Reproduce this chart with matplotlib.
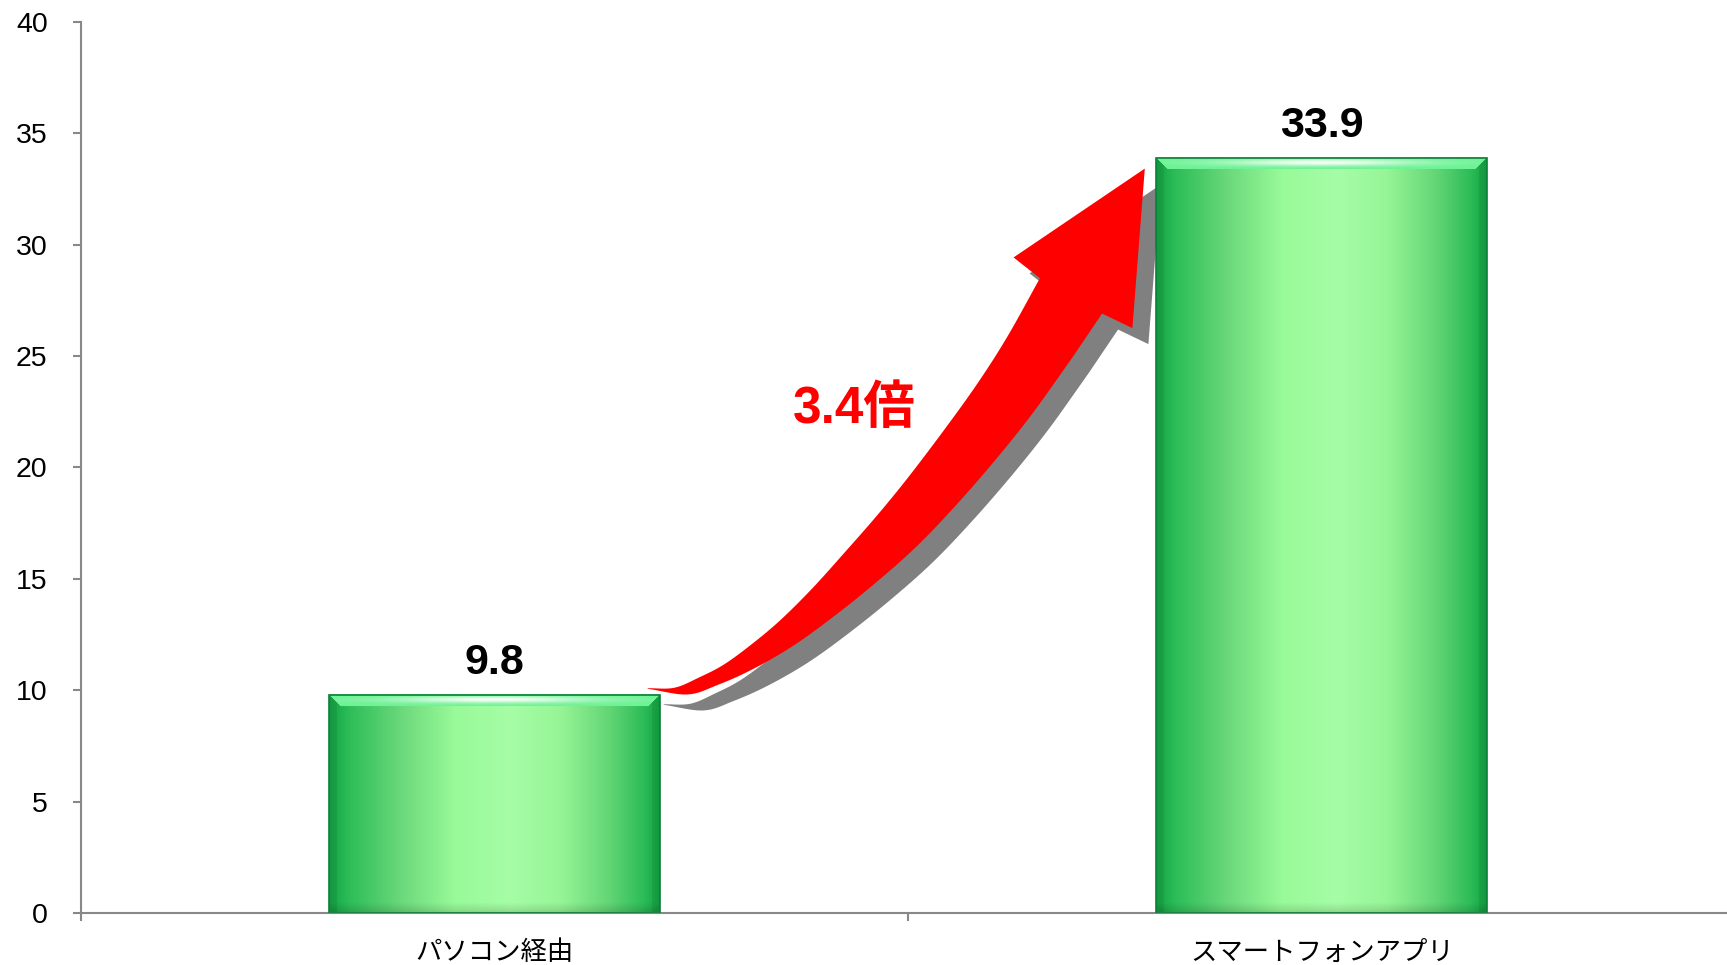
import numpy as np
import matplotlib
matplotlib.use("Agg")
import matplotlib.pyplot as plt
import matplotlib.transforms as mtransforms
from matplotlib.colors import to_rgb
from matplotlib.patches import Rectangle, PathPatch
from matplotlib.path import Path

plt.rcParams['font.family'] = ['Liberation Sans', 'Noto Sans CJK JP']

categories = ['パソコン経由', 'スマートフォンアプリ']
values = [9.8, 33.9]
ratio_label = '3.4倍'
yticks = [0, 5, 10, 15, 20, 25, 30, 35, 40]

# horizontal colour stops of the "cylinder" bars
stops = [(0.0, '#13a444'), (0.06, '#2dbd58'), (0.22, '#6cd97c'), (0.38, '#98fa98'),
         (0.55, '#a6fda6'), (0.7, '#96f596'), (0.85, '#62d575'), (0.95, '#2dbd58'),
         (1.0, '#13a444')]


def bar_image(wpx, hpx):
    u = np.linspace(0, 1, wpx)
    pos = [s[0] for s in stops]
    cols = np.array([to_rgb(s[1]) for s in stops])
    prof = np.stack([np.interp(u, pos, cols[:, k]) for k in range(3)], -1)
    img = np.repeat(prof[None], hpx, axis=0)
    rows = np.arange(hpx)[:, None]
    cidx = np.arange(wpx)[None, :]
    # darker band at the bottom
    d = (hpx - 1 - rows).astype(float)
    img = img * (0.86 + 0.14 * np.clip(d / 10, 0, 1))[..., None]
    # side bevels
    side = ((cidx < 8) | (cidx >= wpx - 8)) & (rows >= np.minimum(cidx, wpx - 1 - cidx))
    img = np.where(side[..., None], img * 0.93, img)
    # top bevel with highlight
    top = (rows < 12) & (cidx >= rows) & (cidx < wpx - rows)
    light = np.array(to_rgb('#6cf294'))
    hl = np.exp(-((u[None, :] - 0.5) / 0.3) ** 2) * np.exp(-((rows - 5) / 3.5) ** 2)
    top_col = light * (1 - hl[..., None]) + hl[..., None] * np.array([0.96, 1.0, 0.96])
    img = np.where(top[..., None], top_col, img)
    return np.clip(img, 0, 1)


def smooth(pts, n=8):
    p = np.asarray(pts, float)
    p = np.vstack([p[0] * 2 - p[1], p, p[-1] * 2 - p[-2]])
    out = []
    t = np.linspace(0, 1, n, endpoint=False)[:, None]
    for i in range(1, len(p) - 2):
        p0, p1, p2, p3 = p[i - 1], p[i], p[i + 1], p[i + 2]
        out.append(0.5 * (2 * p1 + (-p0 + p2) * t + (2 * p0 - 5 * p1 + 4 * p2 - p3) * t ** 2
                          + (-p0 + 3 * p1 - 3 * p2 + p3) * t ** 3))
    out.append(p[-2][None])
    return np.vstack(out)


fig = plt.figure(figsize=(17.27, 9.65), dpi=100)
ax = fig.add_axes([0.0469, 0.0539, 0.958, 0.9233])

x = np.arange(len(categories))
width = 0.4
bars = ax.bar(x, values, width=width, color='#2dbd58', edgecolor='none', zorder=2)
ax.set_xlim(-0.5, 1.5)
ax.set_ylim(0, 40)

# gradient fill + outline for each bar
for rect in bars:
    x0, y0 = rect.get_x(), rect.get_y()
    w, h = rect.get_width(), rect.get_height()
    (px0, py0), (px1, py1) = ax.transData.transform([(x0, y0), (x0 + w, y0 + h)])
    img = bar_image(int(round(px1 - px0)), int(round(py1 - py0)))
    ax.imshow(img, extent=(x0, x0 + w, y0, y0 + h), origin='upper', aspect='auto',
              zorder=2.5, interpolation='bilinear')
    ax.add_patch(Rectangle((x0, y0), w, h, fill=False, edgecolor='#0d7f38', lw=1.2, zorder=3))
ax.set_xlim(-0.5, 1.5)
ax.set_ylim(0, 40)

# value labels
for xi, v in zip(x, values):
    ax.annotate(f'{v}', (xi, v), xytext=(0, 23), textcoords='offset points',
                ha='center', va='center', fontsize=31, fontweight='bold', zorder=6)

# curved growth arrow between the bars (shape in a unit frame)
upper_n = [(0, 0), (0.054, 0.001), (0.104, 0.021), (0.154, 0.046), (0.211, 0.086),
           (0.268, 0.132), (0.332, 0.193), (0.396, 0.261), (0.461, 0.332), (0.525, 0.407),
           (0.604, 0.507), (0.668, 0.593), (0.725, 0.679), (0.789, 0.789)]
head_n = [(0.736, 0.829), (1, 1), (0.975, 0.693), (0.914, 0.721)]
lower_n = [(0.854, 0.636), (0.775, 0.530), (0.700, 0.440), (0.620, 0.352), (0.540, 0.272),
           (0.455, 0.200), (0.370, 0.135), (0.290, 0.080), (0.210, 0.036), (0.140, 0.006),
           (0.080, -0.012), (0.0, -0.001)]
outline = np.vstack([smooth(upper_n), np.array(head_n), smooth(lower_n)])

sx0, sy0 = x[0] + width / 2 - 0.015, values[0] + 0.29
sx1, sy1 = x[1] - width / 2 - 0.014, values[1] - 0.48
pts = np.column_stack([sx0 + outline[:, 0] * (sx1 - sx0), sy0 + outline[:, 1] * (sy1 - sy0)])
pts = np.vstack([pts, pts[:1]])
codes = [Path.MOVETO] + [Path.LINETO] * (len(pts) - 2) + [Path.CLOSEPOLY]
arrow_path = Path(pts, codes)

shadow_tr = mtransforms.offset_copy(ax.transData, fig=fig, x=16, y=-16, units='dots')
ax.add_patch(PathPatch(arrow_path, facecolor='#808080', edgecolor='none',
                       transform=shadow_tr, zorder=1.5))
ax.add_patch(PathPatch(arrow_path, facecolor='#ff0000', edgecolor='none', zorder=4))

ax.text(0.435, 22.6, ratio_label, color='#ff0000', fontsize=37, fontweight='bold',
        ha='center', va='center', zorder=6)

# axes styling
ax.spines[['top', 'right']].set_visible(False)
for s in ('left', 'bottom'):
    ax.spines[s].set_color('#888888')
    ax.spines[s].set_linewidth(1.5)

ax.set_yticks(yticks)
ax.tick_params(axis='y', direction='out', length=6, width=1.5, color='#888888',
               labelsize=20.5, pad=18)
ax.set_xticks(x, categories)
ax.set_xticks([-0.5, 0.5, 1.5], minor=True)
ax.tick_params(axis='x', which='major', length=0, labelsize=19, pad=20)
ax.tick_params(axis='x', which='minor', direction='out', length=6, width=1.5, color='#888888')

fig.savefig('out.png', dpi=100)
